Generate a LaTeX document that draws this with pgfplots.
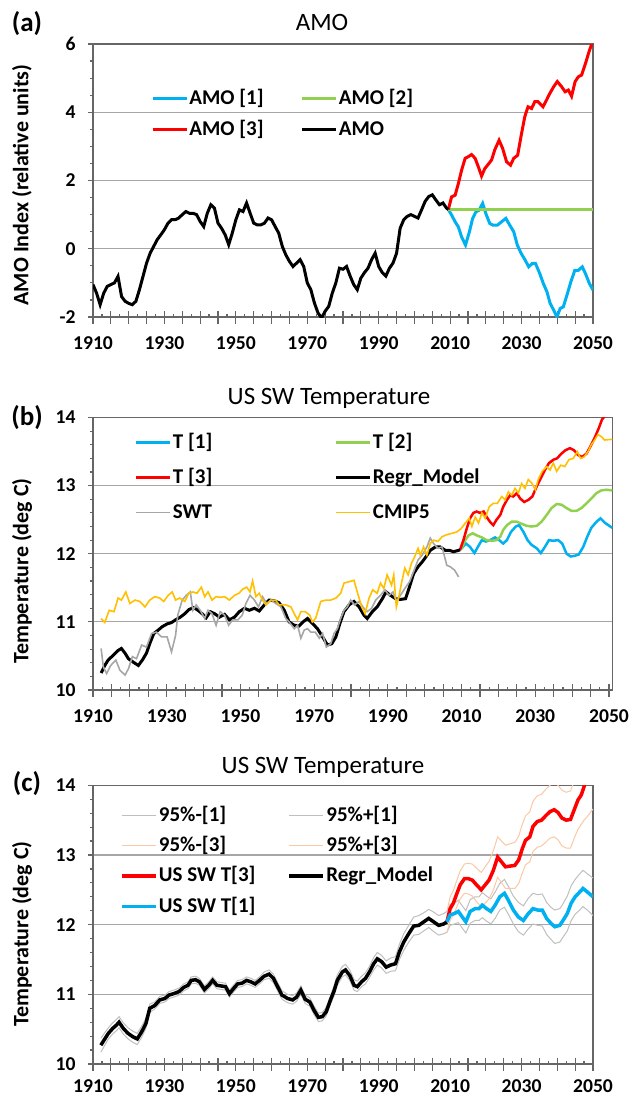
\documentclass[border=0pt]{standalone}
\usepackage{fontspec}
\setmainfont{Carlito}
\usepackage{pgfplots}
\pgfplotsset{compat=1.18}
\definecolor{cblue}{HTML}{00B0F0}
\definecolor{cgreen}{HTML}{92D050}
\definecolor{cred}{HTML}{FF0000}
\definecolor{cyel}{HTML}{FFC000}
\definecolor{cgray}{HTML}{A6A6A6}
\definecolor{bgray}{HTML}{BFBFBF}
\definecolor{borange}{HTML}{F9C8A4}
\pgfplotsset{
 myaxis/.style={
  scale only axis,
  anchor=south west,
  xmin=1910,
  axis line style={draw=black!60, line width=0.7pt},
  xtick={1910,1930,...,2050},
  xticklabels={1910,1930,1950,1970,1990,2010,2030,2050},
  major x tick style={draw=none},
  minor x tick num=7,
  xtick align=inside,
  ytick align=outside,
  xtick pos=left, ytick pos=left,
  major tick length=2.5pt,
  minor tick length=1.6pt,
  every tick/.append style={black!60, line width=0.6pt},
  extra x ticks={1910,1915,...,2050},
  extra x tick labels={},
  extra x tick style={major tick length=6.5pt, xtick align=center, major x tick style={draw=black!60}},
  ymajorgrids, grid style={black!35, line width=0.6pt},
  tick label style={font=\bfseries\fontsize{9.8}{11}\selectfont, inner sep=0pt, text=black},
  xticklabel style={anchor=north, yshift=-9.5pt},
  yticklabel style={anchor=east, xshift=-6pt},
  legend style={draw=none, fill=none, inner sep=0pt, anchor=north west,
     font=\bfseries\fontsize{10.5}{12}\selectfont,
     nodes={inner sep=0.6pt, text height=7.5pt, text depth=2pt}},
  legend columns=2, legend cell align=left,
  legend image code/.code={\draw[##1] (0pt,0pt) -- (17pt,0pt);},
 }
}
\begin{document}
\begin{tikzpicture}
\useasboundingbox (0,0) rectangle (316.5pt,-549pt);
%%%%%%%%%%%%%%%% (a)
\begin{axis}[myaxis, at={(46.5pt,-158.5pt)}, width=250pt, height=136.5pt,
  xmax=2050, ymin=-2, ymax=6, ytick={-2,0,2,4,6}, yticklabels={-2,0,2,4,6},
  minor y tick num=3,
  legend style={at={(0.1156,0.841)}, row sep=4.8pt}]
\addlegendimage{cblue, line width=1.5pt}\addlegendentry{\makebox[55pt][l]{AMO [1]}}
\addlegendimage{cgreen, line width=1.5pt}\addlegendentry{AMO [2]}
\addlegendimage{cred, line width=1.5pt}\addlegendentry{\makebox[55pt][l]{AMO [3]}}
\addlegendimage{black, line width=1.5pt}\addlegendentry{AMO}
\addplot[forget plot, cblue, line width=1.5pt] coordinates {
(2009.5,1.15)(2010.4,0.99)(2011.4,0.79)(2012.3,0.64)(2013.2,0.35)(2014.3,0.11)(2015.4,0.50)
(2016.3,0.89)(2017.2,1.08)(2018.1,1.13)(2019.1,1.33)(2020.0,1.03)(2021.1,0.74)(2022.0,0.69)
(2023.2,0.69)(2024.4,0.79)(2025.6,0.89)(2026.7,0.69)(2027.8,0.50)(2028.8,0.11)(2029.9,-0.14)
(2031.0,-0.33)(2032.0,-0.53)(2033.0,-0.43)(2033.9,-0.43)(2035.1,-0.73)(2036.1,-1.02)(2037.1,-1.26)
(2038.0,-1.60)(2039.0,-1.80)(2039.9,-2.00)(2040.8,-1.75)(2041.7,-1.70)(2042.7,-1.36)(2043.8,-0.97)
(2044.9,-0.63)(2045.9,-0.63)(2047.0,-0.53)(2047.9,-0.73)(2049.0,-1.02)(2050,-1.21)};
\addplot[forget plot, cgreen, line width=1.5pt] coordinates {(2009.5,1.15)(2050,1.15)};
\addplot[forget plot, cred, line width=1.5pt] coordinates {
(2009.5,1.15)(2010.4,1.52)(2011.4,1.57)(2012.3,1.91)(2013.2,2.30)(2014.2,2.65)(2015.1,2.70)
(2016.0,2.76)(2017.0,2.65)(2017.9,2.40)(2018.8,2.13)(2019.7,2.35)(2020.7,2.48)(2021.6,2.60)
(2022.5,2.90)(2023.7,3.18)(2024.7,2.94)(2025.8,2.55)(2026.9,2.45)(2027.8,2.65)(2028.9,2.74)
(2030.0,3.38)(2030.9,3.87)(2031.8,4.16)(2032.8,4.11)(2033.7,4.31)(2034.6,4.31)(2036.0,4.16)
(2037.0,4.36)(2037.9,4.55)(2039.0,4.75)(2040.0,4.90)(2041.2,4.75)(2042.2,4.60)(2043.1,4.65)
(2044.0,4.47)(2045.0,4.90)(2045.9,5.04)(2046.8,5.09)(2047.9,5.43)(2048.9,5.78)(2050,6.1)};
\addplot[forget plot, black, line width=1.5pt] coordinates {
(1910,-1.05)(1911,-1.30)(1912,-1.64)(1913,-1.30)(1914,-1.10)(1915,-1.05)(1916,-1.00)(1917,-0.81)
(1918,-1.40)(1919,-1.54)(1920,-1.60)(1921,-1.64)(1922,-1.54)(1923,-1.20)(1924,-0.81)(1925,-0.42)
(1926,-0.13)(1927,0.07)(1928,0.27)(1929,0.41)(1930,0.56)(1931,0.75)(1932,0.85)(1933,0.85)
(1934,0.90)(1935,1.00)(1936,1.09)(1937,1.04)(1938,1.04)(1939,1.00)(1940,0.80)(1941,0.65)
(1942,1.04)(1943,1.29)(1944,1.19)(1945,0.75)(1946,0.60)(1947,0.41)(1948,0.12)(1949,0.46)
(1950,0.85)(1951,1.14)(1952,1.09)(1953,1.34)(1954,1.04)(1955,0.75)(1956,0.70)(1957,0.70)
(1958,0.75)(1959,0.90)(1960,0.85)(1961,0.65)(1962,0.46)(1963,0.07)(1964,-0.18)(1965,-0.37)
(1966,-0.52)(1967,-0.42)(1968,-0.32)(1969,-0.52)(1970,-1.00)(1971,-1.20)(1972,-1.59)(1973,-1.88)
(1974,-2.03)(1975,-1.83)(1976,-1.69)(1977,-1.30)(1978,-1.00)(1979,-0.57)(1980,-0.60)(1981,-0.52)
(1982,-0.80)(1983,-1.05)(1984,-1.20)(1985,-0.86)(1986,-0.70)(1987,-0.57)(1988,-0.32)(1989,-0.13)
(1990,-0.52)(1991,-0.70)(1992,-0.80)(1993,-0.57)(1994,-0.42)(1995,-0.13)(1996,0.60)(1997,0.85)
(1998,0.95)(1999,1.00)(2000,0.95)(2001,0.90)(2002,1.14)(2003,1.39)(2004,1.53)(2005,1.58)
(2006,1.43)(2007,1.29)(2008,1.34)(2009,1.19)(2009.5,1.15)};
\end{axis}
%%%%%%%%%%%%%%%% (b)
\begin{axis}[myaxis, at={(46.5pt,-345pt)}, width=259.75pt, height=136.25pt,
  xmax=2050.95, ymin=10, ymax=14, ytick={10,11,12,13,14}, yticklabels={10,11,12,13,14},
  minor y tick num=4,
  legend style={at={(0.0805,0.949)}, row sep=6.8pt}]
\addlegendimage{cblue, line width=1.25pt}\addlegendentry{\makebox[80.3pt][l]{T [1]}}
\addlegendimage{cgreen, line width=1.25pt}\addlegendentry{T [2]}
\addlegendimage{cred, line width=1.25pt}\addlegendentry{\makebox[80.3pt][l]{T [3]}}
\addlegendimage{black, line width=1.5pt}\addlegendentry{Regr\_Model}
\addlegendimage{cgray, line width=0.8pt}\addlegendentry{\makebox[80.3pt][l]{SWT}}
\addlegendimage{cyel, line width=0.8pt}\addlegendentry{CMIP5}
\addplot[forget plot, cblue, line width=1.25pt] coordinates {
(2009.6,12.06)(2010,12.08)(2011.2,12.15)(2012.3,12.10)(2013.5,12.01)(2014.4,12.10)(2015.5,12.20)
(2016.6,12.18)(2017.7,12.20)(2019.1,12.24)(2020.2,12.20)(2021.3,12.15)(2022.3,12.20)(2023.4,12.32)
(2024.7,12.40)(2025.6,12.42)(2026.8,12.32)(2027.9,12.20)(2029,12.13)(2030.4,12.08)(2031.5,12.01)
(2032.6,12.10)(2033.7,12.20)(2034.9,12.19)(2036.2,12.20)(2037.3,12.15)(2038.5,12.00)(2039.6,11.96)
(2040.7,11.97)(2041.8,11.99)(2043,12.10)(2044.1,12.25)(2045.2,12.38)(2046.6,12.47)(2047.7,12.52)
(2049,12.45)(2050.9,12.38)};
\addplot[forget plot, cgreen, line width=1.25pt] coordinates {
(2009.6,12.06)(2010,12.08)(2011,12.20)(2011.9,12.27)(2013,12.30)(2014.1,12.27)(2015.5,12.24)
(2016.8,12.20)(2018.2,12.19)(2019.5,12.20)(2020.5,12.25)(2021.3,12.35)(2022.3,12.42)(2023.6,12.47)
(2025,12.47)(2026.3,12.44)(2027.7,12.41)(2029,12.40)(2030.4,12.41)(2031.7,12.47)(2033.1,12.57)
(2034.4,12.67)(2035.8,12.73)(2037.1,12.72)(2038.5,12.67)(2039.8,12.63)(2041.2,12.63)(2042.5,12.67)
(2043.9,12.74)(2045.2,12.81)(2046.6,12.89)(2047.9,12.93)(2049.3,12.94)(2050.9,12.93)};
\addplot[forget plot, cred, line width=1.25pt] coordinates {
(2009.6,12.06)(2010.5,12.20)(2011.4,12.37)(2012.3,12.52)(2013.2,12.60)(2014.1,12.62)(2015,12.60)
(2016,12.62)(2016.8,12.54)(2017.7,12.47)(2018.6,12.42)(2019.5,12.50)(2020.5,12.57)(2021.3,12.69)
(2022.3,12.79)(2023.2,12.86)(2024,12.84)(2025,12.89)(2025.9,12.81)(2027,12.76)(2028.1,12.79)
(2029.2,12.84)(2030.4,12.99)(2031.5,13.11)(2032.6,13.23)(2033.7,13.33)(2034.9,13.38)(2035.9,13.40)
(2037.1,13.47)(2038.2,13.52)(2039.4,13.55)(2040.5,13.52)(2041.6,13.45)(2042.7,13.42)(2043.9,13.47)
(2044.9,13.57)(2046.1,13.70)(2047.2,13.84)(2048.1,13.97)(2049.3,14.05)(2050.9,14.3)};
\addplot[forget plot, black, line width=1.5pt] coordinates {
(1912.2,10.25)(1913.2,10.36)(1914.1,10.44)(1915.5,10.51)(1916.8,10.58)(1917.7,10.61)(1918.7,10.54)
(1919.6,10.46)(1920.9,10.41)(1922.3,10.36)(1923.4,10.44)(1924.5,10.54)(1925.4,10.68)(1926.5,10.83)
(1927.7,10.88)(1928.8,10.93)(1930.1,10.97)(1931.3,10.99)(1932.4,11.03)(1933.7,11.07)(1934.9,11.12)
(1936,11.18)(1937.3,11.21)(1938.5,11.17)(1939.6,11.12)(1940.7,11.06)(1941.8,11.15)(1943,11.12)
(1944.3,11.07)(1945.7,11.11)(1947,11.03)(1948.4,11.07)(1949.7,11.15)(1951.1,11.20)(1952.4,11.17)
(1953.8,11.20)(1955.1,11.16)(1956.5,11.25)(1957.8,11.32)(1959.2,11.31)(1960.5,11.28)(1961.9,11.17)
(1963.2,11.00)(1964.6,10.95)(1965.9,10.94)(1967,11.00)(1968.2,11.05)(1969.5,10.98)(1970.9,10.90)
(1972.3,10.78)(1973.6,10.66)(1974.8,10.68)(1975.9,10.78)(1977,10.98)(1978.1,11.15)(1979.5,11.25)
(1980.8,11.30)(1982.2,11.22)(1983.5,11.10)(1984.4,11.05)(1985.8,11.15)(1987.1,11.22)(1988.5,11.34)
(1989.5,11.44)(1990.7,11.39)(1992.1,11.34)(1993.4,11.33)(1994.8,11.34)(1995.9,11.52)(1997,11.71)
(1998.2,11.81)(1999.3,11.88)(2000.4,11.96)(2001.5,12.05)(2002.9,12.10)(2004.2,12.10)(2005.6,12.05)
(2006.7,12.05)(2007.8,12.03)(2009.2,12.05)(2009.6,12.06)};
\addplot[forget plot, cgray, line width=0.8pt] coordinates {
(1912.2,10.61)(1912.8,10.34)(1913.7,10.24)(1914.8,10.36)(1916.2,10.44)(1917.3,10.29)(1918.7,10.22)
(1919.6,10.31)(1920.7,10.49)(1921.8,10.46)(1923.2,10.66)(1924.5,10.63)(1925.9,10.83)(1927.2,10.85)
(1928.6,10.78)(1930.1,10.78)(1931.3,10.56)(1932.4,10.80)(1933,11.10)(1934.2,11.32)(1935.3,11.39)
(1936.4,11.44)(1937.1,11.17)(1938,11.25)(1939.1,11.17)(1940.3,11.05)(1941.2,11.17)(1942.3,11.12)
(1943.4,10.95)(1944.5,11.15)(1945.7,11.10)(1946.8,10.95)(1947.9,11.03)(1949.3,11.03)(1950.5,11.10)
(1951.5,11.27)(1952.6,11.39)(1953.8,11.32)(1954.9,11.22)(1956,11.37)(1957.1,11.27)(1958.3,11.32)
(1959.6,11.27)(1961,11.22)(1962.3,11.05)(1963.2,11.00)(1964.6,10.90)(1965.5,10.95)(1966.4,10.76)
(1967.3,10.88)(1968.2,10.90)(1969.1,10.85)(1970.3,10.85)(1971.4,10.76)(1972.3,10.83)(1973.3,10.63)
(1974.5,10.68)(1975.4,10.83)(1976.3,10.90)(1977.2,11.05)(1978.1,11.17)(1979,11.22)(1979.9,11.32)
(1981,11.25)(1982.2,11.30)(1983.5,11.20)(1984.4,11.15)(1985.6,11.20)(1986.7,11.32)(1988,11.39)
(1989.2,11.47)(1990.3,11.39)(1991.4,11.44)(1992.3,11.30)(1993.4,11.39)(1994.6,11.49)(1995.9,11.59)
(1997,11.74)(1998.2,11.91)(1999.3,11.98)(2000.6,12.10)(2001.5,12.23)(2002.4,12.15)(2003.6,12.08)
(2004.7,12.10)(2006,11.83)(2006.9,11.81)(2008.1,11.76)(2009.2,11.66)};
\addplot[forget plot, cyel, line width=0.8pt] coordinates {
(1912.2,11.05)(1913.2,10.99)(1914.4,11.17)(1915.7,11.15)(1916.8,11.35)(1917.7,11.32)(1918.9,11.44)
(1920,11.27)(1921.4,11.32)(1922.7,11.30)(1924.1,11.22)(1925.4,11.32)(1926.8,11.37)(1928.1,11.35)
(1929.2,11.30)(1930.4,11.39)(1931.5,11.44)(1932.4,11.32)(1933.5,11.35)(1934.9,11.30)(1936,11.42)
(1937.1,11.44)(1938.2,11.42)(1939.4,11.51)(1940.3,11.37)(1941.2,11.44)(1942.3,11.32)(1943.4,11.37)
(1944.5,11.36)(1945.7,11.37)(1947,11.32)(1948.4,11.39)(1949.6,11.42)(1950.6,11.48)(1951.7,11.51)
(1952.6,11.44)(1953.3,11.60)(1954.2,11.37)(1955.1,11.42)(1956,11.32)(1956.9,11.25)(1958.3,11.32)
(1959.5,11.32)(1960.5,11.25)(1962.3,11.25)(1963.7,11.22)(1964.6,11.12)(1965.5,11.03)(1966.4,11.15)
(1967.6,11.15)(1968.8,11.10)(1969.5,11.00)(1970.4,11.05)(1971.8,11.30)(1973.2,11.32)(1974.5,11.32)
(1975.9,11.35)(1977.2,11.42)(1978.1,11.57)(1979.5,11.59)(1980.8,11.61)(1981.7,11.44)(1982.9,11.22)
(1983.8,11.12)(1984.9,11.35)(1985.9,11.47)(1987.1,11.42)(1988,11.57)(1988.9,11.49)(1989.8,11.69)
(1991,11.54)(1991.6,11.69)(1992.3,11.22)(1993,11.37)(1993.7,11.57)(1994.6,11.79)(1995.5,11.69)
(1996.4,11.86)(1997.3,11.96)(1998.2,12.08)(1998.8,11.98)(1999.7,12.10)(2000.6,11.98)(2001.5,12.15)
(2002.4,12.20)(2003.6,12.18)(2004.7,12.25)(2006,12.28)(2007.4,12.30)(2008.7,12.32)(2009.9,12.37)
(2011,12.45)(2012.1,12.52)(2012.8,12.40)(2013.7,12.54)(2014.6,12.45)(2015.5,12.60)(2016.4,12.52)
(2017.5,12.69)(2018.6,12.74)(2019.7,12.74)(2020.9,12.84)(2021.8,12.79)(2022.7,12.91)(2023.6,12.86)
(2024.5,12.96)(2025.4,12.89)(2026.3,13.03)(2027.2,12.96)(2028.1,13.09)(2029,13.04)(2030,12.94)
(2030.8,13.09)(2031.9,13.21)(2033.1,13.28)(2034,13.23)(2034.9,13.33)(2035.8,13.21)(2036.9,13.30)
(2038,13.28)(2039.1,13.38)(2040.3,13.40)(2041.4,13.50)(2042.3,13.40)(2043.2,13.42)(2044.3,13.50)
(2045.2,13.60)(2046.1,13.67)(2047,13.75)(2047.9,13.72)(2048.8,13.67)(2050.9,13.68)};
\end{axis}
%%%%%%%%%%%%%%%% (c)
\begin{axis}[myaxis, at={(46.5pt,-532pt)}, width=250pt, height=139.35pt,
  xmax=2050, ymin=10, ymax=14, ytick={10,11,12,13,14}, yticklabels={10,11,12,13,14},
  minor y tick num=4, xticklabel style={yshift=2pt},
  legend style={at={(0.0536,0.931)}, row sep=4.45pt}]
\addlegendimage{bgray, line width=0.5pt}\addlegendentry{\makebox[63.8pt][l]{95\%-[1]}}
\addlegendimage{bgray, line width=0.5pt}\addlegendentry{95\%+[1]}
\addlegendimage{borange, line width=0.5pt}\addlegendentry{\makebox[63.8pt][l]{95\%-[3]}}
\addlegendimage{borange, line width=0.5pt}\addlegendentry{95\%+[3]}
\addlegendimage{cred, line width=1.75pt}\addlegendentry{\makebox[63.8pt][l]{US SW T[3]}}
\addlegendimage{black, line width=1.75pt}\addlegendentry{Regr\_Model}
\addlegendimage{cblue, line width=1.75pt}\addlegendentry{\makebox[63.8pt][l]{US SW T[1]}}
% 95%-[1]
\addplot[forget plot, bgray, line width=0.5pt] coordinates {
(1912.2,10.17)(1913.3,10.27)(1914.3,10.36)(1915.5,10.43)(1916.6,10.48)(1917.3,10.52)(1918.5,10.43)
(1919.8,10.36)(1921.2,10.31)(1922.4,10.28)(1923.6,10.38)(1924.8,10.51)(1925.9,10.74)(1927.3,10.79)
(1928.7,10.87)(1930.1,10.89)(1931.3,10.94)(1932.6,10.96)(1934.1,10.99)(1935.4,11.05)(1936.6,11.08)
(1937.5,11.15)(1938.7,11.16)(1939.8,11.13)(1941.2,11.02)(1942.4,11.08)(1943.5,11.15)(1944.7,11.08)
(1945.9,11.07)(1947.1,11.06)(1948.2,10.96)(1949.3,11.03)(1950.5,11.10)(1951.7,11.11)(1953,11.15)
(1954.2,11.13)(1955.4,11.10)(1956.6,11.15)(1957.9,11.21)(1959.3,11.23)(1960.5,11.17)(1961.7,11.05)
(1962.9,10.93)(1964.5,10.88)(1965.9,10.86)(1967,10.90)(1968.2,11.00)(1969.4,10.87)(1970.7,10.83)
(1971.9,10.71)(1973.1,10.61)(1974.2,10.62)(1975.3,10.69)(1976.5,10.86)(1977.5,10.98)(1978.4,11.13)
(1979.8,11.25)(1980.7,11.28)(1981.9,11.20)(1983.1,11.06)(1984,11.04)(1985.2,11.11)(1986.3,11.15)
(1987.4,11.24)(1988.6,11.35)(1989.6,11.42)(1990.8,11.38)(1992.1,11.30)(1993.3,11.33)(1994.7,11.34)
(1995.8,11.50)(1997,11.63)(1998.4,11.75)(1999.8,11.85)(2001.2,11.86)(2002.6,11.91)(2004,11.96)
(2005.4,11.90)(2006.8,11.85)(2008.2,11.87)(2009.1,11.89)(2010,11.99)(2011.2,12.01)(2012.3,12.03)
(2013.4,11.95)(2014.4,11.88)(2015.6,12.02)(2017,12.06)(2018.1,12.06)(2019,12.10)(2020.2,12.05)
(2021.4,12.01)(2022.6,12.09)(2023.9,12.21)(2025.2,12.25)(2026.3,12.15)(2027.7,12.01)(2029.1,11.90)
(2030.5,11.85)(2031.9,11.94)(2033.2,12.01)(2034.5,11.99)(2035.8,11.98)(2037,11.86)(2038.2,11.79)
(2039.3,11.73)(2040.7,11.75)(2041.6,11.82)(2042.8,11.91)(2043.9,12.06)(2045,12.15)(2046.3,12.21)
(2047.2,12.26)(2048.4,12.21)(2050,12.13)};
% 95%+[1]
\addplot[forget plot, bgray, line width=0.5pt] coordinates {
(1912.2,10.37)(1913.3,10.45)(1914.3,10.52)(1915.5,10.59)(1916.6,10.64)(1917.3,10.68)(1918.5,10.59)
(1919.8,10.52)(1921.2,10.47)(1922.4,10.44)(1923.6,10.54)(1924.8,10.65)(1925.9,10.86)(1927.3,10.89)
(1928.7,10.97)(1930.1,10.99)(1931.3,11.04)(1932.6,11.06)(1934.1,11.09)(1935.4,11.15)(1936.6,11.18)
(1937.5,11.25)(1938.7,11.26)(1939.8,11.23)(1941.2,11.12)(1942.4,11.18)(1943.5,11.25)(1944.7,11.18)
(1945.9,11.17)(1947.1,11.16)(1948.2,11.06)(1949.3,11.13)(1950.5,11.20)(1951.7,11.21)(1953,11.25)
(1954.2,11.23)(1955.4,11.20)(1956.6,11.25)(1957.9,11.32)(1959.3,11.35)(1960.5,11.29)(1961.7,11.17)
(1962.9,11.05)(1964.5,11.00)(1965.9,10.98)(1967,11.02)(1968.2,11.12)(1969.4,10.99)(1970.7,10.95)
(1971.9,10.83)(1973.1,10.73)(1974.2,10.74)(1975.3,10.81)(1976.5,10.98)(1977.5,11.12)(1978.4,11.28)
(1979.8,11.40)(1980.7,11.43)(1981.9,11.35)(1983.1,11.21)(1984,11.19)(1985.2,11.26)(1986.3,11.31)
(1987.4,11.40)(1988.6,11.53)(1989.6,11.60)(1990.8,11.56)(1992.1,11.48)(1993.3,11.52)(1994.7,11.54)
(1995.8,11.72)(1997,11.87)(1998.4,11.99)(1999.8,12.11)(2001.2,12.13)(2002.6,12.17)(2004,12.22)
(2005.4,12.18)(2006.8,12.13)(2008.2,12.16)(2009.1,12.19)(2010,12.29)(2011.2,12.31)(2012.3,12.35)
(2013.4,12.27)(2014.4,12.20)(2015.6,12.36)(2017,12.40)(2018.1,12.40)(2019,12.46)(2020.2,12.41)
(2021.4,12.37)(2022.6,12.47)(2023.9,12.59)(2025.2,12.65)(2026.3,12.55)(2027.7,12.41)(2029.1,12.32)
(2030.5,12.27)(2031.9,12.38)(2033.2,12.45)(2034.5,12.43)(2035.8,12.44)(2037,12.32)(2038.2,12.25)
(2039.3,12.21)(2040.7,12.23)(2041.6,12.30)(2042.8,12.41)(2043.9,12.56)(2045,12.65)(2046.3,12.73)
(2047.2,12.78)(2048.4,12.73)(2050,12.67)};
% 95%-[3]
\addplot[forget plot, borange, line width=0.5pt] coordinates {
(2009.1,11.89)(2010,12.06)(2010.9,12.13)(2011.9,12.26)(2012.8,12.37)(2014,12.45)(2015.1,12.44)
(2016.2,12.41)(2017.4,12.33)(2018.7,12.25)(2019.8,12.31)(2020.9,12.37)(2022.1,12.50)(2023.3,12.68)
(2024.4,12.60)(2025.5,12.52)(2026.7,12.52)(2028.1,12.52)(2029.2,12.59)(2030.2,12.74)(2031.1,12.86)
(2032.3,12.90)(2033.2,13.05)(2034.4,13.11)(2035.6,13.13)(2036.7,13.18)(2037.9,13.24)(2039.1,13.26)
(2040.2,13.22)(2041.3,13.13)(2042.5,13.10)(2043.7,13.10)(2044.9,13.26)(2045.8,13.37)(2046.7,13.44)
(2047.5,13.50)(2048.4,13.55)(2050,13.66)};
% 95%+[3]
\addplot[forget plot, borange, line width=0.5pt] coordinates {
(2009.1,12.19)(2010,12.40)(2010.9,12.49)(2011.9,12.64)(2012.8,12.77)(2014,12.87)(2015.1,12.88)
(2016.2,12.87)(2017.4,12.81)(2018.7,12.75)(2019.8,12.83)(2020.9,12.91)(2022.1,13.06)(2023.3,13.26)
(2024.4,13.20)(2025.5,13.14)(2026.7,13.16)(2028.1,13.18)(2029.2,13.27)(2030.2,13.44)(2031.1,13.56)
(2032.3,13.62)(2033.2,13.77)(2034.4,13.85)(2035.6,13.87)(2036.7,13.94)(2037.9,14.00)(2039.1,14.04)
(2040.2,14.00)(2041.3,13.93)(2042.5,13.90)(2043.7,13.92)(2044.9,14.08)(2045.8,14.21)(2046.7,14.28)
(2047.5,14.41)(2050,14.6)};
% US SW T[3]
\addplot[forget plot, cred, line width=1.75pt] coordinates {
(2009.1,12.04)(2010,12.23)(2010.9,12.31)(2011.9,12.45)(2012.8,12.57)(2014,12.66)(2015.1,12.66)
(2016.2,12.64)(2017.4,12.57)(2018.7,12.50)(2019.8,12.57)(2020.9,12.64)(2022.1,12.78)(2023.3,12.97)
(2024.4,12.90)(2025.5,12.83)(2026.7,12.84)(2028.1,12.85)(2029.2,12.93)(2030.2,13.09)(2031.1,13.21)
(2032.3,13.26)(2033.2,13.41)(2034.4,13.48)(2035.6,13.50)(2036.7,13.56)(2037.9,13.62)(2039.1,13.65)
(2040.2,13.61)(2041.3,13.53)(2042.5,13.50)(2043.7,13.51)(2044.9,13.67)(2045.8,13.79)(2046.7,13.86)
(2047.5,13.98)(2048.1,14.08)(2050,14.3)};
% Regr_Model
\addplot[forget plot, black, line width=1.75pt] coordinates {
(1912.2,10.27)(1913.3,10.36)(1914.3,10.44)(1915.5,10.51)(1916.6,10.56)(1917.3,10.60)(1918.5,10.51)
(1919.8,10.44)(1921.2,10.39)(1922.4,10.36)(1923.6,10.46)(1924.8,10.58)(1925.9,10.80)(1927.3,10.84)
(1928.7,10.92)(1930.1,10.94)(1931.3,10.99)(1932.6,11.01)(1934.1,11.04)(1935.4,11.10)(1936.6,11.13)
(1937.5,11.20)(1938.7,11.21)(1939.8,11.18)(1941.2,11.07)(1942.4,11.13)(1943.5,11.20)(1944.7,11.13)
(1945.9,11.12)(1947.1,11.11)(1948.2,11.01)(1949.3,11.08)(1950.5,11.15)(1951.7,11.16)(1953,11.20)
(1954.2,11.18)(1955.4,11.15)(1956.6,11.20)(1957.9,11.26)(1959.3,11.29)(1960.5,11.23)(1961.7,11.11)
(1962.9,10.99)(1964.5,10.94)(1965.9,10.92)(1967,10.96)(1968.2,11.06)(1969.4,10.93)(1970.7,10.89)
(1971.9,10.77)(1973.1,10.67)(1974.2,10.68)(1975.3,10.75)(1976.5,10.92)(1977.5,11.05)(1978.4,11.20)
(1979.8,11.32)(1980.7,11.35)(1981.9,11.27)(1983.1,11.13)(1984,11.11)(1985.2,11.18)(1986.3,11.23)
(1987.4,11.32)(1988.6,11.44)(1989.6,11.51)(1990.8,11.47)(1992.1,11.39)(1993.3,11.42)(1994.7,11.44)
(1995.8,11.61)(1997,11.75)(1998.4,11.87)(1999.8,11.98)(2001.2,11.99)(2002.6,12.04)(2004,12.09)
(2005.4,12.04)(2006.8,11.99)(2008.2,12.01)(2009.1,12.04)};
% US SW T[1]
\addplot[forget plot, cblue, line width=1.75pt] coordinates {
(2009.1,12.04)(2010,12.14)(2011.2,12.16)(2012.3,12.19)(2013.4,12.11)(2014.4,12.04)(2015.6,12.19)
(2017,12.23)(2018.1,12.23)(2019,12.28)(2020.2,12.23)(2021.4,12.19)(2022.6,12.28)(2023.9,12.40)
(2025.2,12.45)(2026.3,12.35)(2027.7,12.21)(2029.1,12.11)(2030.5,12.06)(2031.9,12.16)(2033.2,12.23)
(2034.5,12.21)(2035.8,12.21)(2037,12.09)(2038.2,12.02)(2039.3,11.97)(2040.7,11.99)(2041.6,12.06)
(2042.8,12.16)(2043.9,12.31)(2045,12.40)(2046.3,12.47)(2047.2,12.52)(2048.4,12.47)(2050,12.40)};
\end{axis}
%%%%%%%%%%%%%%%% texts
\node[font=\bfseries\fontsize{13.5}{15}\selectfont] at (13.5pt,-12pt) {(a)};
\node[font=\bfseries\fontsize{13.5}{15}\selectfont] at (13.5pt,-209pt) {(b)};
\node[font=\bfseries\fontsize{13.5}{15}\selectfont] at (13.5pt,-392pt) {(c)};
\node[font=\fontsize{12.5}{14}\selectfont] at (161pt,-11pt) {AMO};
\node[font=\fontsize{12.5}{14}\selectfont] at (164.5pt,-199pt) {US SW Temperature};
\node[font=\fontsize{12.5}{14}\selectfont] at (161.5pt,-383.5pt) {US SW Temperature};
\node[font=\bfseries\fontsize{11}{12}\selectfont, rotate=90] at (11pt,-92.5pt) {AMO Index (relative units)};
\node[font=\bfseries\fontsize{11}{12}\selectfont, rotate=90] at (11pt,-285.5pt) {Temperature (deg C)};
\node[font=\bfseries\fontsize{11}{12}\selectfont, rotate=90] at (11pt,-467pt) {Temperature (deg C)};
\end{tikzpicture}
\end{document}
